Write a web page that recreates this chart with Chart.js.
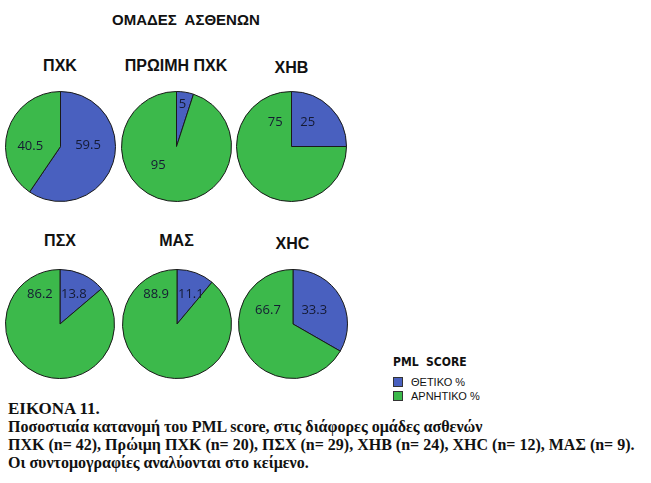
<!DOCTYPE html>
<html>
<head>
<meta charset="utf-8">
<script src="https://cdn.jsdelivr.net/npm/chart.js@4"></script>
<style>
  body { margin: 0; background: #fff; width: 651px; height: 483px; position: relative; overflow: hidden; }
  .abs { position: absolute; }
  .title { font: bold 15px "Liberation Sans", Arial, sans-serif; white-space: pre; color: #111; }
  .sub { font: bold 16px "Liberation Sans", Arial, sans-serif; color: #111; text-align: center; width: 120px; }
  .legend { font: 11px "Liberation Sans", Arial, sans-serif; color: #111; }
  .legend .head { font: bold 12px "DejaVu Sans Condensed", "Liberation Sans Narrow", sans-serif; margin-bottom: 6px; white-space: pre; }
  .legend .row { height: 14px; line-height: 14px; }
  .legend .sw { display: inline-block; width: 8px; height: 8px; border: 1px solid #333; margin-right: 8px; vertical-align: -1px; }
  .caption { font: bold 16px "Liberation Serif", "Times New Roman", serif; color: #111; line-height: 18px; white-space: nowrap; }
</style>
</head>
<body>
<div class="abs title" style="left:112px; top:11px;">ΟΜΑΔΕΣ  ΑΣΘΕΝΩΝ</div>
<div id="pies"></div>
<div class="abs legend" id="legend" style="left:393px; top:355px;"></div>
<div class="abs caption" style="left:8px; top:400px;">
  <div style="font-size:17px">ΕΙΚΟΝΑ 11.</div>
  <div>Ποσοστιαία κατανομή του PML score, στις διάφορες ομάδες ασθενών</div>
  <div>ΠΧΚ (n= 42), Πρώιμη ΠΧΚ (n= 20), ΠΣΧ (n= 29), ΧΗΒ (n= 24), ΧΗC (n= 12), ΜΑΣ (n= 9).</div>
  <div>Οι συντομογραφίες αναλύονται στο κείμενο.</div>
</div>
<script>
// PML score per patient group, % positive / % negative
const groups = ['ΠΧΚ', 'ΠΡΩΙΜΗ ΠΧΚ', 'ΧΗΒ', 'ΠΣΧ', 'ΜΑΣ', 'ΧΗC'];
const categories = ['ΘΕΤΙΚΟ %', 'ΑΡΝΗΤΙΚΟ %'];
const positive = [59.5, 5, 25, 13.8, 11.1, 33.3];
const negative = [40.5, 95, 75, 86.2, 88.9, 66.7];

const colors = ['#4960BF', '#3CB94B'];

// where each pie sits on the page (centre x, centre y, radius)
const layout = [
  [60, 146.5, 55], [176, 146, 55], [291.5, 146.5, 55],
  [60, 323.5, 54.5], [176.5, 323.5, 54.5], [292.5, 323.5, 54.5]
];
const titleTops = [57, 57, 59, 232, 232, 235];
// label placement inside each pie: [angle deg clockwise from top, fraction of radius]
const labelPos = [
  [[88, 0.5], [270, 0.55]],
  [[8, 0.77], [224, 0.48]],
  [[34, 0.53], [326, 0.53]],
  [[25, 0.6], [326, 0.66]],
  [[25, 0.6], [325, 0.67]],
  [[58, 0.46], [298, 0.52]]
];

const sliceLabels = {
  id: 'sliceLabels',
  afterDatasetsDraw(chart, args, opts) {
    const ctx = chart.ctx;
    const meta = chart.getDatasetMeta(0);
    const data = chart.data.datasets[0].data;
    ctx.save();
    ctx.font = '13px "Open Sans", "Liberation Sans", Arial, sans-serif';
    ctx.fillStyle = '#151a33';
    ctx.textAlign = 'center';
    ctx.textBaseline = 'middle';
    meta.data.forEach((arc, i) => {
      const [deg, f] = opts.pos[i];
      const a = (deg - 90) * Math.PI / 180;
      const r = arc.outerRadius * f;
      ctx.fillText(String(data[i]), arc.x + Math.cos(a) * r, arc.y + Math.sin(a) * r);
    });
    ctx.restore();
  }
};

const holder = document.getElementById('pies');
groups.forEach((name, g) => {
  const [cx, cy, r] = layout[g];
  const t = document.createElement('div');
  t.className = 'abs sub';
  t.style.left = (cx - 60) + 'px';
  t.style.top = titleTops[g] + 'px';
  t.textContent = name;
  holder.appendChild(t);

  const size = Math.round(2 * r + 1);
  const c = document.createElement('canvas');
  c.className = 'abs';
  c.width = size; c.height = size;
  c.style.left = (cx - size / 2) + 'px';
  c.style.top = (cy - size / 2) + 'px';
  c.style.width = size + 'px';
  c.style.height = size + 'px';
  holder.appendChild(c);

  new Chart(c.getContext('2d'), {
    type: 'pie',
    data: {
      labels: categories,
      datasets: [{
        data: [positive[g], negative[g]],
        backgroundColor: colors,
        borderColor: '#1a1a1a',
        borderWidth: 1
      }]
    },
    options: {
      responsive: false,
      animation: false,
      layout: { padding: 0 },
      plugins: {
        legend: { display: false },
        tooltip: { enabled: false },
        sliceLabels: { pos: labelPos[g] }
      }
    },
    plugins: [sliceLabels]
  });
});

const legend = document.getElementById('legend');
legend.innerHTML = '<div class="head">PML  SCORE</div>' + categories.map((c, i) =>
  `<div class="row"><span class="sw" style="background:${colors[i]}"></span>${c}</div>`).join('');
</script>
</body>
</html>
